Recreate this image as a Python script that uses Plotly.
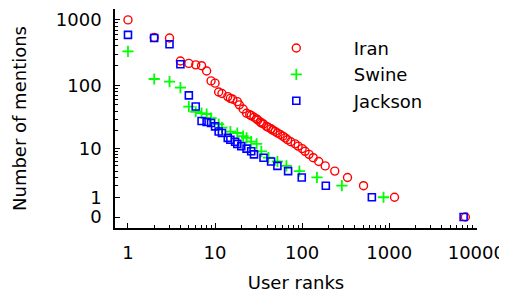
import plotly.graph_objects as go

# Iran
iran_rank = [1, 2, 3, 4, 5, 6, 7, 8, 9, 10, 11, 12, 14, 15, 16, 18, 19, 21, 23, 25, 26, 28, 30, 31, 33, 34,
             36, 39, 41, 44, 46, 49, 52, 56, 60, 64, 68, 74, 83, 90, 100, 108, 120, 134, 155, 184, 237, 332,
             507, 1150, 7480]
iran_count = [1000, 540, 530, 236, 217, 206, 200, 166, 117, 108, 79, 75, 67, 63, 61, 56, 50, 43, 37, 35, 34,
              32, 30, 29, 27, 26, 25, 23, 22, 21, 20, 19, 18, 17, 16, 15, 14, 13, 12, 11, 10, 9, 8, 7, 6, 5,
              4, 3, 2, 1, 0]

# Swine
swine_rank = [1, 2, 3, 4, 5, 6, 7, 8, 9, 11, 12, 15, 18, 21, 23, 26, 30, 34, 41, 52, 66, 93, 148, 286, 860]
swine_count = [330, 125, 114, 92, 47, 39, 37, 36, 31, 25, 22, 19, 18, 16, 15, 13, 12, 9, 7, 6, 5, 4, 3, 2, 1]

# Jackson
jackson_rank = [1, 2, 3, 4, 5, 6, 7, 8, 9, 10, 11, 12, 14, 15, 17, 18, 20, 23, 26, 28, 36, 44, 52, 69,
                99, 187, 632, 7150]
jackson_count = [590, 530, 425, 210, 70, 47, 28, 27, 26, 23, 19, 18, 15, 14, 13, 12, 11, 10, 9, 8, 7, 6, 5,
                 4, 3, 2, 1, 0]

x_ticks = [1, 10, 100, 1000, 10000]
y_tick_labels = [0, 1, 10, 100, 1000]

FONT = "DejaVu Sans, Arial, sans-serif"
FS = 18

def shift(v):
    return [c + 1 for c in v]

fig = go.Figure()
fig.add_trace(go.Scatter(
    x=iran_rank, y=shift(iran_count), mode="markers", name="Iran",
    marker=dict(symbol="circle-open", size=8, color="#ff0000", line=dict(width=1.4, color="#ff0000")),
))
fig.add_trace(go.Scatter(
    x=swine_rank, y=shift(swine_count), mode="markers", name="Swine",
    marker=dict(symbol="cross-thin", size=8, color="#00ff00", line=dict(width=1.8, color="#00ff00")),
))
fig.add_trace(go.Scatter(
    x=jackson_rank, y=shift(jackson_count), mode="markers", name="Jackson",
    marker=dict(symbol="square-open", size=7, color="#0000ff", line=dict(width=1.6, color="#0000ff")),
))

y_minor = []
for d in [1, 10, 100]:
    for m in range(2, 10):
        y_minor.append(m * d + 1)

x_minor = []
for d in [1, 10, 100, 1000]:
    for m in range(2, 10):
        x_minor.append(m * d)

# page body has an 8px default margin, so the figure is 8px smaller
fig.update_layout(
    width=499, height=285,
    margin=dict(l=107, r=30, t=1, b=65, autoexpand=False),
    paper_bgcolor="white", plot_bgcolor="white",
    font=dict(family=FONT, size=FS, color="black"),
    showlegend=True,
    legend=dict(x=0.342, y=0.905, xanchor="left", yanchor="top", bgcolor="rgba(0,0,0,0)",
                font=dict(size=FS), itemwidth=105, tracegroupgap=0),
    xaxis=dict(
        type="log", range=[-0.149, 4.008], automargin=False,
        tickvals=x_ticks, ticktext=[str(v) for v in x_ticks],
        ticks="inside", ticklen=5, tickwidth=1.2, tickcolor="black",
        showline=True, linecolor="black", linewidth=1.5,
        showgrid=False, zeroline=False,
        minor=dict(tickvals=x_minor, ticks="inside", ticklen=3, tickcolor="black", showgrid=False),
        title=dict(text="User ranks", font=dict(size=FS), standoff=16),
        ticklabelstandoff=8,
    ),
    yaxis=dict(
        type="log", range=[-0.167, 3.166], automargin=False,
        tickvals=shift(y_tick_labels), ticktext=[str(v) for v in y_tick_labels],
        ticks="inside", ticklen=5, tickwidth=1.2, tickcolor="black",
        showline=True, linecolor="black", linewidth=1.5,
        showgrid=False, zeroline=False,
        minor=dict(tickvals=y_minor, ticks="inside", ticklen=3, tickcolor="black", showgrid=False),
        title=dict(text="Number of mentions", font=dict(size=FS), standoff=25),
        ticklabelstandoff=8,
    ),
)

fig.write_html("out.html")
